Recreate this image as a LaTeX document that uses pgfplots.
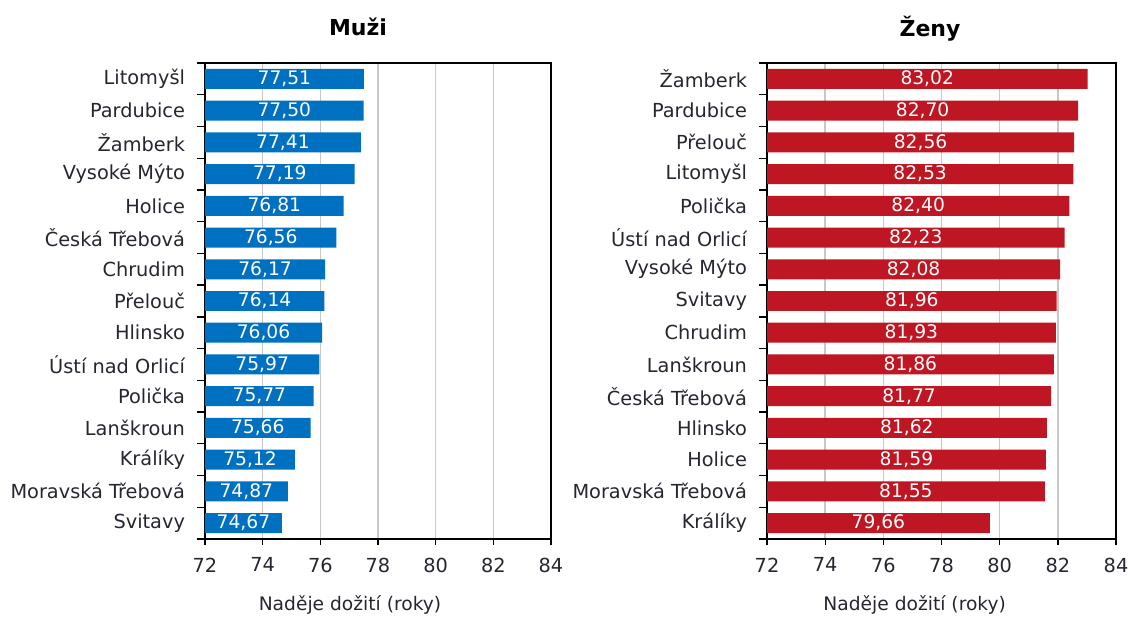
\documentclass[border=0pt]{standalone}
\usepackage{fontspec}
\setmainfont{DejaVu Sans}
\usepackage{pgfplots}
\usepackage{pgfplotstable}
\pgfplotsset{compat=1.18}
\definecolor{mblue}{RGB}{0,112,192}
\definecolor{mred}{RGB}{190,22,34}
\definecolor{txt}{RGB}{38,38,48}
\definecolor{gridc}{RGB}{200,200,200}

\pgfplotstableread{
i v
0 77.51
1 77.50
2 77.41
3 77.19
4 76.81
5 76.56
6 76.17
7 76.14
8 76.06
9 75.97
10 75.77
11 75.66
12 75.12
13 74.87
14 74.67
}\men
\pgfplotstableread{
i v
0 83.02
1 82.70
2 82.56
3 82.53
4 82.40
5 82.23
6 82.08
7 81.96
8 81.93
9 81.86
10 81.77
11 81.62
12 81.59
13 81.55
14 79.66
}\women

\pgfplotsset{
  panel/.style={
    scale only axis,
    anchor=south west,
    width=260pt, height=357pt,
    xmin=72, xmax=84,
    ymin=-0.5, ymax=14.5,
    y dir=reverse,
    xtick={72,74,...,84},
    ytick={0,...,14},
    minor ytick={-0.5,0.5,...,14.5},
    major y tick style={draw=none},
    tick align=outside,
    xtick pos=bottom, ytick pos=left,
    major tick length=4.5pt,
    minor tick length=6pt,
    tick style={black, line width=1pt},
    axis line style={black, line width=1.1pt},
    xmajorgrids=true,
    grid style={gridc, line width=1.1pt},
    font=\fontsize{14.5pt}{17pt}\selectfont,
    tick label style={txt},
    yticklabel style={xshift=-7pt},
    xticklabel style={yshift=-6pt},
    /pgf/number format/assume math mode=true,
    clip=true,
  },
  vals/.style={
    only marks, mark=none,
    nodes near coords,
    point meta=explicit,
    nodes near coords align={center},
    every node near coord/.style={anchor=center, text=white, font=\fontsize{14pt}{16pt}\selectfont,
      /pgf/number format/.cd, fixed, fixed zerofill, precision=2, use comma, assume math mode=true},
  },
}

\begin{document}
\begin{tikzpicture}
\path[use as bounding box] (0,0) rectangle (846.75pt,462.75pt);
\begin{axis}[panel, at={(153.75pt,58.5pt)}, width=259.5pt,
  yticklabels={Litomyšl,Pardubice,Žamberk,Vysoké Mýto,Holice,Česká Třebová,Chrudim,Přelouč,Hlinsko,Ústí nad Orlicí,Polička,Lanškroun,Králíky,Moravská Třebová,Svitavy}]
\addplot[xbar, fill=mblue, draw=none, bar width=0.63] table[x=v, y=i] {\men};
\addplot[vals] table[x expr={(\thisrow{v}+72)/2}, y=i, meta=v] {\men};
\end{axis}
\begin{axis}[panel, at={(575.25pt,58.5pt)}, width=261.75pt,
  yticklabels={Žamberk,Pardubice,Přelouč,Litomyšl,Polička,Ústí nad Orlicí,Vysoké Mýto,Svitavy,Chrudim,Lanškroun,Česká Třebová,Hlinsko,Holice,Moravská Třebová,Králíky}]
\addplot[xbar, fill=mred, draw=none, bar width=0.63] table[x=v, y=i] {\women};
\addplot[vals] table[x expr={(\thisrow{v}+72)/2}, y=i, meta=v] {\women};
\end{axis}
\node[font=\bfseries\fontsize{16.5pt}{19pt}\selectfont] at (268.5pt,442.5pt) {Muži};
\node[font=\bfseries\fontsize{16.5pt}{19pt}\selectfont] at (697.5pt,441pt) {Ženy};
\node[font=\fontsize{14pt}{16pt}\selectfont, text=txt] at (262.5pt,9pt) {Naděje dožití (roky)};
\node[font=\fontsize{14pt}{16pt}\selectfont, text=txt] at (686pt,9pt) {Naděje dožití (roky)};
\end{tikzpicture}
\end{document}
